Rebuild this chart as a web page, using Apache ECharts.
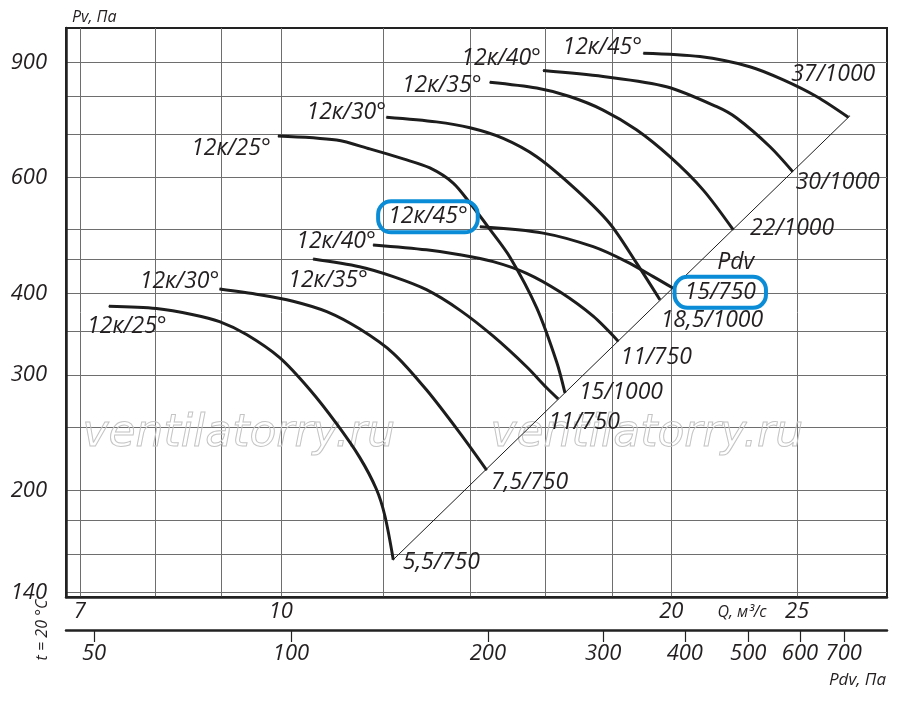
<!DOCTYPE html>
<html>
<head>
<meta charset="utf-8">
<script src="https://cdn.jsdelivr.net/npm/echarts@6/dist/echarts.min.js"></script>
<style>
html,body{margin:0;padding:0;background:#fff}
#main{width:900px;height:711px}
</style>
</head>
<body>
<div id="main"></div>
<script>
// ось Q, м3/с и ось Pv, Па (логарифмические)
var qGrid = [7, 8, 9, 10, 12, 14, 16, 18, 20, 25];
var qLabels = [7, 10, 20, 25];
var pvGrid = [140, 160, 180, 200, 250, 300, 350, 400, 450, 500, 600, 700, 800, 900];
var pvLabels = [140, 200, 300, 400, 600, 900];
var pdvTicks = [50, 100, 200, 300, 400, 500, 600, 700];

// нижняя группа, 750 об/мин  [Q, Pv]
var low25 = [[7.37,382],[8.02,379],[8.56,371],[8.97,362],[9.41,346],[9.98,319],[10.53,285],[11.04,253],[11.50,225],[11.85,201],[12.03,183],[12.21,157]];
var low30 = [[8.97,406],[9.63,398],[10.22,389],[10.85,375],[11.50,353],[12.21,324],[12.95,285],[13.74,245],[14.41,215]];
var low35 = [[10.59,451],[11.50,439],[12.21,424],[12.95,405],[13.74,377],[14.58,344],[15.47,309],[16.03,287],[16.36,276]];
var low40 = [[11.78,474],[12.95,466],[13.74,458],[14.58,447],[15.47,429],[16.41,402],[17.41,369],[18.20,338]];
var low45 = [[14.24,505],[15.93,494],[17.41,471],[18.47,447],[19.37,424],[20.07,407]];

// верхняя группа, 1000 об/мин
var high25 = [[9.95,695],[11.04,685],[11.71,664],[12.43,641],[13.03,621],[13.58,589],[13.99,549],[14.49,501],[15.02,454],[15.75,380],[16.32,314],[16.56,282]];
var high30 = [[12.06,742],[13.18,730],[13.99,715],[14.84,689],[15.75,646],[16.90,575],[17.93,511],[18.80,445],[19.60,391]];
var high35 = [[14.49,839],[15.75,822],[16.70,798],[17.72,761],[18.80,710],[19.95,646],[21.16,575],[22.32,500]];
var high40 = [[15.93,874],[17.72,856],[19.83,826],[21.68,770],[22.46,740],[23.83,669],[24.81,613]];
var high45 = [[19.03,929],[21.04,918],[22.99,886],[24.40,846],[25.88,798],[27.38,742]];

// линия динамического давления
var pdvLine = [[12.21,157],[27.45,745]];

var blades = ['12к/25°', '12к/30°', '12к/35°', '12к/40°', '12к/45°'];
var lowMotors = ['5,5/750', '7,5/750', '11/750', '11/750', '15/750'];
var highMotors = ['15/1000', '18,5/1000', '22/1000', '30/1000', '37/1000'];

var FONT = 'Open Sans';
var INK = '#231f20';
var BLUE = '#0a8dd6';

var lowStartOff = [[18,20],[-40,-8],[15,21],[-37,-3],[-52,-10]];
var lowEndOff = [[48,3],[43,12],[26,24],[38,16],[47,4]];
var highStartOff = [[-47,13],[-40,-5],[-48,3],[-42,-12],[-41,-6]];
var highEndOff = [[56,0],[52,21],[59,-1],[45,11],[-15,-43]];

function lbl(text, off, boxed) {
    var l = {
        show: true, position: 'inside', align: 'center', verticalAlign: 'middle',
        formatter: text, offset: off,
        fontFamily: FONT, fontStyle: 'italic', fontSize: 23, color: INK
    };
    if (boxed) {
        l.borderColor = BLUE;
        l.borderWidth = 4;
        l.borderRadius = 13;
        l.padding = [4, 10];
    }
    return l;
}

function curve(points, startText, startOff, endText, endOff, boxed) {
    var data = points.map(function (p) { return {value: p}; });
    data[0].label = lbl(startText, startOff, boxed);
    data[data.length - 1].label = lbl(endText, endOff, boxed);
    return {
        type: 'line', xAxisIndex: 0, yAxisIndex: 0,
        data: data, smooth: 0.3,
        symbol: 'circle', symbolSize: 1, showSymbol: true,
        itemStyle: {color: '#1d1d1d'},
        lineStyle: {color: '#1d1d1d', width: 3},
        label: {show: false},
        silent: true, z: 3
    };
}

var series = [];
[low25, low30, low35, low40, low45].forEach(function (c, i) {
    series.push(curve(c, blades[i], lowStartOff[i], lowMotors[i], lowEndOff[i], i === 4));
});
[high25, high30, high35, high40, high45].forEach(function (c, i) {
    series.push(curve(c, blades[i], highStartOff[i], highMotors[i], highEndOff[i], false));
});
var pdvData = pdvLine.map(function (p) { return {value: p}; });
pdvData[1].label = lbl('Pdv', [-114, 146], false);
series.push({
    type: 'line', data: pdvData, symbol: 'circle', symbolSize: 1,
    itemStyle: {color: '#1d1d1d'},
    lineStyle: {color: '#1d1d1d', width: 1}, label: {show: false}, silent: true, z: 2
});

var axisText = {fontFamily: FONT, fontStyle: 'italic', fontSize: 22, color: INK};
function fmt(v) { return String(Math.round(v)); }

var option = {
    animation: false,
    backgroundColor: '#fff',
    grid: [
        {left: 66, right: 13, top: 28, bottom: 114, show: true, borderColor: '#222', borderWidth: 2},
        {left: 66, right: 13, top: 629, height: 1, show: false}
    ],
    xAxis: [
        {
            type: 'log', gridIndex: 0, logBase: 10, min: 6.83, max: 29.33,
            axisLine: {show: true, onZero: false, lineStyle: {color: '#222', width: 2.5}},
            axisTick: {show: false, customValues: qGrid},
            splitLine: {show: true, lineStyle: {color: '#6e6e6e', width: 1}},
            axisLabel: Object.assign({customValues: qLabels, margin: 4, formatter: fmt}, axisText)
        },
        {
            type: 'log', gridIndex: 1, logBase: 10, min: 45.3, max: 815,
            axisLine: {show: true, onZero: false, lineStyle: {color: '#222', width: 2.5}},
            axisTick: {show: true, customValues: pdvTicks, length: 12, lineStyle: {color: '#222', width: 1.2}},
            splitLine: {show: false},
            axisLabel: Object.assign({customValues: pdvTicks, margin: 13, formatter: fmt}, axisText)
        }
    ],
    yAxis: [
        {
            type: 'log', gridIndex: 0, logBase: 10, min: 137.7, max: 1015,
            name: 'Pv, Па', nameLocation: 'end', nameGap: 3,
            nameTextStyle: {fontFamily: FONT, fontStyle: 'italic', fontSize: 16, color: INK, align: 'left', padding: [0, 0, 0, 6]},
            axisLine: {show: true, lineStyle: {color: '#222', width: 2.5}},
            axisTick: {show: false, customValues: pvGrid},
            splitLine: {show: true, lineStyle: {color: '#6e6e6e', width: 1}},
            axisLabel: Object.assign({customValues: pvLabels, margin: 19, formatter: fmt, padding: [0, 0, 8, 0]}, axisText)
        },
        {type: 'value', gridIndex: 1, show: false, min: 0, max: 1}
    ],
    graphic: [
        {type: 'text', left: 82, top: 412, z: 1, silent: true,
         style: {text: 'ventilatorry.ru', font: 'italic 44px "DejaVu Sans"', fill: 'rgba(0,0,0,0)', stroke: '#c4c4c4', lineWidth: 1}},
        {type: 'text', left: 490, top: 412, z: 1, silent: true,
         style: {text: 'ventilatorry.ru', font: 'italic 44px "DejaVu Sans"', fill: 'rgba(0,0,0,0)', stroke: '#c4c4c4', lineWidth: 1}},
        {type: 'text', x: 742, y: 612, silent: true,
         style: {text: 'Q, м³/с', font: 'italic 16px "Open Sans"', fill: INK, align: 'center', verticalAlign: 'middle'}},
        {type: 'text', x: 886, y: 680, silent: true,
         style: {text: 'Pdv, Па', font: 'italic 17px "Open Sans"', fill: INK, align: 'right', verticalAlign: 'middle'}},
        {type: 'text', x: 42, y: 630, rotation: Math.PI / 2, silent: true,
         style: {text: 't = 20 °C', font: 'italic 16px "Open Sans"', fill: INK, align: 'center', verticalAlign: 'middle'}}
    ],
    series: series
};

var myChart = echarts.init(document.getElementById('main'));
myChart.setOption(option);
</script>
</body>
</html>
